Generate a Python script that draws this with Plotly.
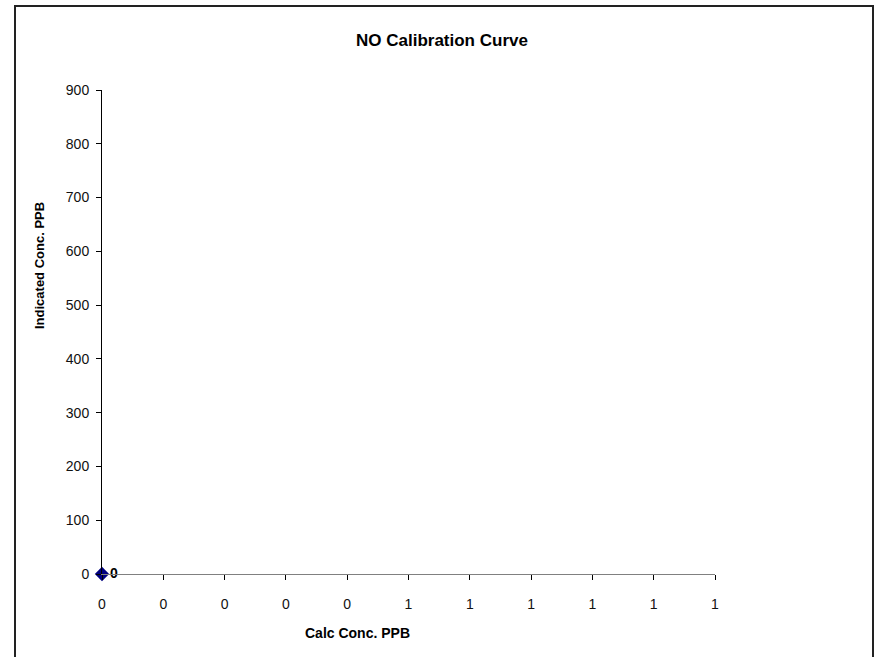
import plotly.graph_objects as go

# Calibration data (calculated vs indicated concentration, ppb)
calc_conc = [0]
indicated_conc = [0]
point_labels = ["0"]

x_tick_vals = [0.0, 0.1, 0.2, 0.3, 0.4, 0.5, 0.6, 0.7, 0.8, 0.9, 1.0]
x_tick_text = ["0", "0", "0", "0", "0", "1", "1", "1", "1", "1", "1"]
y_tick_vals = [0, 100, 200, 300, 400, 500, 600, 700, 800, 900]

W, H = 880, 657
L, R, T, B = 102, 165, 90, 83
PW, PH = W - L - R, H - T - B


def px_x(p):
    return (p - L) / PW


def px_y(p):
    return (H - B - p) / PH


FONT = "Arial, 'Liberation Sans', sans-serif"

fig = go.Figure()
fig.add_trace(go.Scatter(
    x=calc_conc,
    y=indicated_conc,
    mode="markers+text",
    text=point_labels,
    textposition="middle right",
    textfont=dict(family=FONT, size=14, color="black", weight="bold"),
    marker=dict(symbol="diamond", size=11, color="#000080"),
    cliponaxis=False,
    showlegend=False,
))

fig.update_layout(
    width=W, height=H,
    margin=dict(l=L, r=R, t=T, b=B),
    paper_bgcolor="white",
    plot_bgcolor="white",
    font=dict(family=FONT, size=14, color="black"),
    xaxis=dict(
        range=[0, 1],
        tickvals=x_tick_vals,
        ticktext=x_tick_text,
        showgrid=False, zeroline=False,
        showline=True, linecolor="#808080", linewidth=1,
        ticks="outside", ticklen=5, tickcolor="black",
        tickfont=dict(size=14, color="#111111"),
        ticklabelstandoff=12,
    ),
    yaxis=dict(
        range=[0, 900],
        tickvals=y_tick_vals,
        showgrid=False, zeroline=False,
        showline=True, linecolor="black", linewidth=1,
        ticks="outside", ticklen=5, tickcolor="black",
        tickfont=dict(size=14, color="#111111"),
        ticklabelstandoff=4,
    ),
    shapes=[
        dict(type="rect", xref="paper", yref="paper",
             x0=px_x(15), x1=px_x(873), y0=px_y(680), y1=px_y(6),
             line=dict(color="#222222", width=2), layer="below"),
    ],
    annotations=[
        dict(text="<b>NO Calibration Curve</b>", xref="paper", yref="paper",
             x=px_x(442), y=px_y(41), showarrow=False,
             font=dict(size=17), xanchor="center", yanchor="middle"),
        dict(text="<b>Calc Conc. PPB</b>", xref="paper", yref="paper",
             x=px_x(357), y=px_y(633), showarrow=False,
             font=dict(size=14), xanchor="center", yanchor="middle"),
        dict(text="<b>Indicated Conc. PPB</b>", xref="paper", yref="paper",
             x=px_x(39), y=px_y(266), showarrow=False, textangle=-90,
             font=dict(size=13), xanchor="center", yanchor="middle"),
    ],
)

fig.write_html("out.html")
